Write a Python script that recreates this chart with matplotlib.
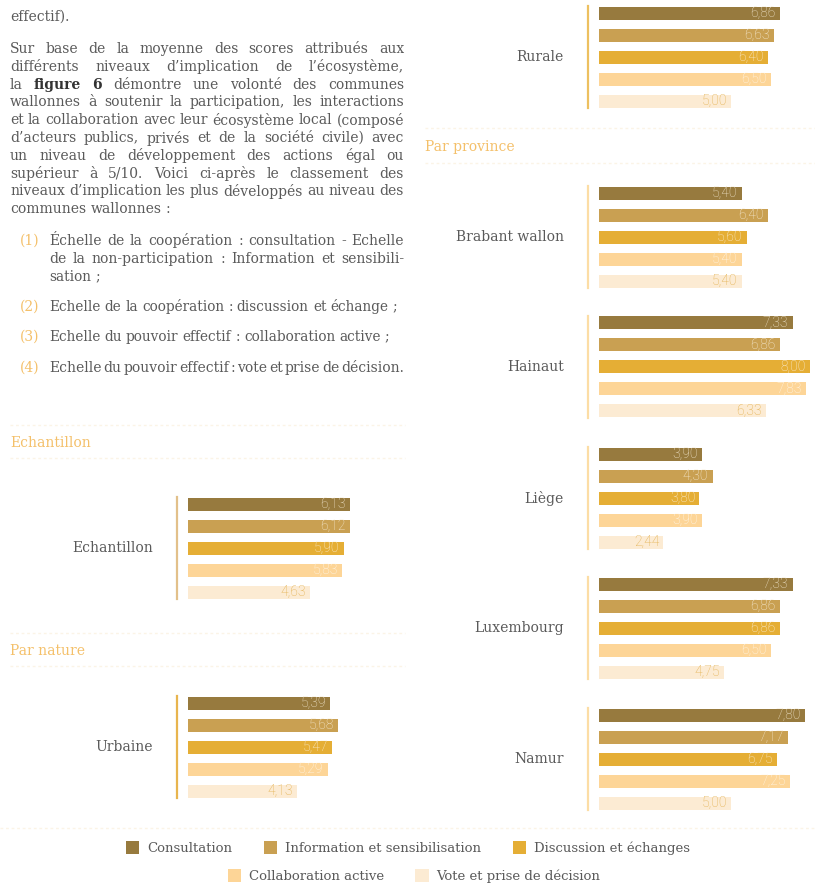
import matplotlib
matplotlib.use('Agg')
import matplotlib.pyplot as plt
from matplotlib.patches import Patch
from matplotlib.lines import Line2D

# Figure size in pixels (dpi 100)
W, H = 815, 890

# Series (one bar per series in every group)
series = ['Consultation', 'Information et sensibilisation',
          'Discussion et échanges', 'Collaboration active',
          'Vote et prise de décision']
colors = ['#977A3E', '#C9A052', '#E5AE35', '#FDD597', '#FCEBD3']
label_colors = ['#F3E8D0', '#F7ECD6', '#FBF0DA', '#FFF8EC', '#E2AE4A']

# Scores per group
echantillon = [6.13, 6.12, 5.90, 5.83, 4.63]
urbaine = [5.39, 5.68, 5.47, 5.29, 4.13]
rurale = [6.86, 6.63, 6.40, 6.50, 5.00]
brabant_wallon = [5.40, 6.40, 5.60, 5.40, 5.40]
hainaut = [7.33, 6.86, 8.00, 7.83, 6.33]
liege = [3.90, 4.30, 3.80, 3.90, 2.44]
luxembourg = [7.33, 6.86, 6.86, 6.50, 4.75]
namur = [7.80, 7.17, 6.75, 7.25, 5.00]

TEXT = '#5a5a5a'
GOLD = '#F4C06A'
SERIF = 'DejaVu Serif'
BODY = 10
PX_PER_UNIT = 26.4

fig = plt.figure(figsize=(W / 100, H / 100), dpi=100)
fig.patch.set_facecolor('white')
renderer = fig.canvas.get_renderer()


def fy(y):
    return 1 - y / H


# ---------------------------------------------------------------- text block
def put_line(line, y, x0, x1, justify=True, size=BODY):
    words = line.split(' ')
    texts = []
    for w in words:
        bold = w.startswith('*')
        t = fig.text(0, fy(y), w.lstrip('*'), fontsize=size, family=SERIF,
                     fontweight='bold' if bold else 'normal',
                     color='#333333' if bold else TEXT, va='center', ha='left')
        texts.append(t)
    widths = [t.get_window_extent(renderer).width for t in texts]
    space = size * 100 / 72 * 0.30
    if justify and len(texts) > 1:
        gap = (x1 - x0 - sum(widths)) / (len(texts) - 1)
        if gap < space * 0.45:
            # squeeze: shrink the words a little so the line fits
            scale = (x1 - x0 - space * 0.45 * (len(texts) - 1)) / sum(widths)
            for t in texts:
                t.set_fontsize(size * scale)
            widths = [w * scale for w in widths]
            gap = space * 0.45
    else:
        gap = space
    x = x0
    for t, w in zip(texts, widths):
        t.set_x(x / W)
        x += w + gap


put_line('effectif).', 17, 10, 404, justify=False)

paragraph = [
    'Sur base de la moyenne des scores attribués aux',
    'différents niveaux d’implication de l’écosystème,',
    'la *figure *6 démontre une volonté des communes',
    'wallonnes à soutenir la participation, les interactions',
    'et la collaboration avec leur écosystème local (composé',
    'd’acteurs publics, privés et de la société civile) avec',
    'un niveau de développement des actions égal ou',
    'supérieur à 5/10. Voici ci-après le classement des',
    'niveaux d’implication les plus développés au niveau des',
]
for k, line in enumerate(paragraph):
    put_line(line, 49 + 17.8 * k, 10, 404)
put_line('communes wallonnes :', 209, 10, 404, justify=False)

items = [
    ('(1)', [('Échelle de la coopération : consultation - Echelle', True),
             ('de la non-participation : Information et sensibili-', True),
             ('sation ;', False)], 241),
    ('(2)', [('Echelle de la coopération : discussion et échange ;', False)], 307),
    ('(3)', [('Echelle du pouvoir effectif : collaboration active ;', False)], 337),
    ('(4)', [('Echelle du pouvoir effectif : vote et prise de décision.', True)], 368),
]
for num, lines, y0 in items:
    fig.text(20 / W, fy(y0), num, fontsize=BODY, family=SERIF, color=GOLD,
             va='center', ha='left')
    for k, (line, just) in enumerate(lines):
        put_line(line, y0 + 18 * k, 49, 400 if k == 0 and not just else 404,
                 justify=just, size=BODY if just else 9.8)

# ---------------------------------------------------------- section headers
for label, x, y in [('Echantillon', 10, 443), ('Par nature', 10, 651),
                    ('Par province', 425, 147)]:
    fig.text(x / W, fy(y), label, fontsize=10, family=SERIF, color=GOLD,
             va='center', ha='left')

for x0, x1, y in [(10, 405, 425), (10, 405, 458), (10, 405, 633),
                  (10, 405, 666), (425, 815, 128), (425, 815, 163),
                  (0, 815, 828)]:
    fig.add_artist(Line2D([x0 / W, x1 / W], [fy(y), fy(y)],
                          transform=fig.transFigure, color='#FBF4E6',
                          lw=1, ls=(0, (2, 2))))


# ---------------------------------------------------------------- bar groups
def bar_group(name, values, line_x, c0, line_color, width):
    top = c0 - 7
    h = 88 + 14
    ax = fig.add_axes([line_x / W, 1 - (top + h) / H, width / W, h / H])
    ax.barh(range(len(values)), values, height=13 / 22, color=colors)
    ax.set_ylim(len(values) - 1 + 7 / 22, -7 / 22)
    ax.set_xlim(-11 / PX_PER_UNIT, (width - 11) / PX_PER_UNIT)
    for s in ['top', 'right', 'bottom']:
        ax.spines[s].set_visible(False)
    ax.spines['left'].set_color(line_color)
    ax.spines['left'].set_linewidth(1.6)
    ax.set_xticks([])
    ax.set_yticks([])
    ax.patch.set_alpha(0)
    for i, v in enumerate(values):
        ax.annotate(f'{v:.2f}'.replace('.', ','), xy=(v, i), xytext=(-3, 0),
                    textcoords='offset points', ha='right', va='center',
                    family='Roboto', fontweight='light', fontsize=10,
                    color=label_colors[i])
    ax.annotate(name, xy=(0, 0.5), xycoords='axes fraction',
                xytext=(-24 * 0.72, 0), textcoords='offset points',
                ha='right', va='center', family=SERIF, fontsize=10, color=TEXT)
    return ax


bar_group('Echantillon', echantillon, 177, 504, '#E2C08A', 238)
bar_group('Urbaine', urbaine, 177, 703, '#E8B54E', 238)
bar_group('Rurale', rurale, 588, 13, '#EDC060', 227)
bar_group('Brabant wallon', brabant_wallon, 588, 193, '#FCDDA5', 227)
bar_group('Hainaut', hainaut, 588, 323, '#FCDDA5', 227)
bar_group('Liège', liege, 588, 454, '#FCDDA5', 227)
bar_group('Luxembourg', luxembourg, 588, 584, '#FCDDA5', 227)
bar_group('Namur', namur, 588, 715, '#FCDDA5', 227)

# -------------------------------------------------------------------- legend
handles = [Patch(facecolor=c, edgecolor='none') for c in colors]
legend_kw = dict(loc='center', frameon=False, handlelength=1.0,
                 handleheight=1.15, handletextpad=0.6, columnspacing=2.4,
                 prop={'family': SERIF, 'size': 9.5}, labelcolor=TEXT)
fig.legend(handles[:3], series[:3], ncol=3,
           bbox_to_anchor=(408 / W, fy(848)), **legend_kw)
fig.legend(handles[3:], series[3:], ncol=2,
           bbox_to_anchor=(414 / W, fy(876)), **legend_kw)

fig.savefig('out.png', dpi=100)
